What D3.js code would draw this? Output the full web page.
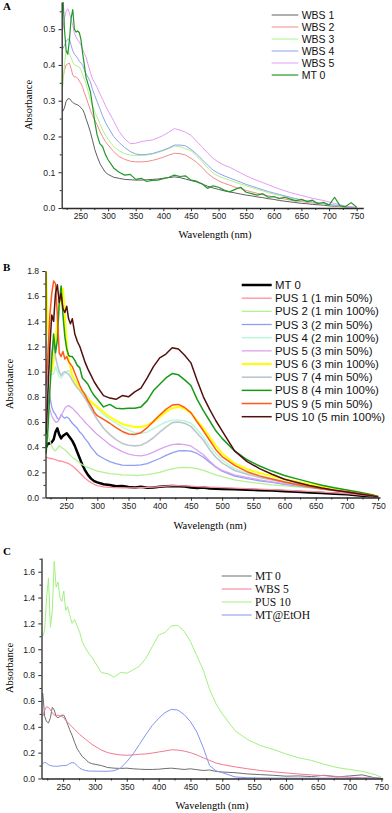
<!DOCTYPE html>
<html>
<head>
<meta charset="utf-8">
<script src="https://cdn.jsdelivr.net/npm/d3@7"></script>
<style>
  body { margin: 0; background: #fff; }
  svg { display: block; }
</style>
</head>
<body>
<div id="chart"></div>
<script>
// wavelength grids (nm)
var WL_A = [218,221,224,227,230,233,236,239,242,245,248,251,254,257,260,264,268,272,276,280,285,290,295,300,
  310,320,330,340,350,360,370,380,390,400,410,420,430,440,450,460,470,480,490,500,
  510,520,530,540,550,560,570,580,590,600,610,620,630,640,650,660,670,680,690,700,710,720,730,740,750];
var WL_BC = [218,221,224,227,230,233,236,239,242,245,248,251,254,257,260,264,268,272,276,280,285,290,295,300,
  310,320,330,340,350,360,370,380,390,400,410,420,430,440,450,460,470,480,490,500,
  520,540,560,580,600,620,640,660,680,700,720,740,750];

var WL_TICKS = [250,300,350,400,450,500,550,600,650,700,750];
var WL_MINOR = [225,275,325,375,425,475,525,575,625,675,725];

// ---- panel A ----
var A_NAMES = ["WBS 1", "WBS 2", "WBS 3", "WBS 4", "WBS 5", "MT 0"];
var A_WBS1 = [0.270,0.280,0.298,0.305,0.306,0.300,0.295,0.292,0.290,0.288,0.285,0.280,0.275,0.265,0.250,0.232,0.212,0.188,0.163,0.145,0.125,0.112,0.100,0.094,
  0.086,0.083,0.080,0.079,0.078,0.078,0.079,0.080,0.081,0.083,0.085,0.087,0.085,0.081,0.077,0.073,0.067,0.061,0.056,0.052,
  0.048,0.045,0.042,0.039,0.036,0.034,0.031,0.029,0.026,0.024,0.021,0.019,0.017,0.015,0.013,0.012,0.010,0.009,0.008,0.006,0.005,0.004,0.003,0.002,0.001];
var A_WBS2 = [0.362,0.385,0.400,0.403,0.405,0.390,0.372,0.366,0.367,0.362,0.355,0.347,0.337,0.322,0.310,0.292,0.273,0.258,0.245,0.233,0.215,0.200,0.186,0.176,
  0.158,0.144,0.136,0.131,0.129,0.129,0.130,0.133,0.137,0.142,0.148,0.153,0.152,0.148,0.139,0.128,0.114,0.097,0.085,0.076,
  0.069,0.064,0.058,0.054,0.049,0.045,0.041,0.037,0.034,0.031,0.028,0.025,0.022,0.020,0.018,0.016,0.014,0.012,0.011,0.009,0.007,0.005,0.003,0.002,0.001];
var A_WBS3 = [0.340,0.400,0.440,0.440,0.430,0.420,0.408,0.400,0.398,0.396,0.394,0.385,0.372,0.360,0.348,0.325,0.302,0.286,0.268,0.255,0.236,0.218,0.204,0.192,
  0.172,0.160,0.152,0.148,0.147,0.147,0.148,0.151,0.155,0.160,0.166,0.173,0.172,0.166,0.160,0.146,0.130,0.112,0.098,0.089,
  0.083,0.078,0.072,0.067,0.062,0.057,0.052,0.048,0.043,0.039,0.035,0.031,0.027,0.024,0.021,0.018,0.016,0.013,0.011,0.009,0.007,0.005,0.003,0.002,0.001];
var A_WBS4 = [0.445,0.455,0.465,0.472,0.473,0.455,0.440,0.430,0.425,0.418,0.410,0.405,0.399,0.386,0.375,0.365,0.352,0.331,0.314,0.298,0.278,0.258,0.240,0.226,
  0.200,0.183,0.169,0.158,0.151,0.149,0.150,0.152,0.157,0.162,0.168,0.176,0.176,0.174,0.164,0.151,0.136,0.120,0.106,0.097,
  0.090,0.084,0.078,0.072,0.066,0.061,0.056,0.051,0.046,0.042,0.038,0.034,0.030,0.026,0.023,0.020,0.017,0.015,0.013,0.010,0.008,0.006,0.004,0.002,0.001];
var A_WBS5 = [0.500,0.530,0.550,0.557,0.545,0.528,0.510,0.490,0.478,0.470,0.464,0.455,0.443,0.432,0.422,0.400,0.378,0.360,0.350,0.337,0.320,0.304,0.287,0.272,
  0.244,0.214,0.193,0.180,0.181,0.186,0.188,0.190,0.196,0.203,0.212,0.222,0.218,0.212,0.203,0.187,0.171,0.154,0.139,0.128,
  0.120,0.114,0.106,0.098,0.090,0.083,0.077,0.071,0.065,0.059,0.053,0.048,0.043,0.039,0.035,0.031,0.027,0.024,0.021,0.017,0.013,0.009,0.005,0.003,0.001];
var A_MT0 = [0.600,0.500,0.440,0.430,0.470,0.530,0.555,0.500,0.492,0.495,0.490,0.470,0.431,0.400,0.366,0.345,0.325,0.282,0.240,0.205,0.180,0.172,0.150,0.135,
  0.112,0.100,0.092,0.094,0.080,0.083,0.074,0.077,0.078,0.082,0.086,0.092,0.088,0.090,0.078,0.075,0.068,0.055,0.062,0.058,
  0.050,0.045,0.052,0.058,0.044,0.040,0.036,0.040,0.030,0.032,0.026,0.030,0.025,0.020,0.024,0.018,0.022,0.012,0.016,0.008,0.030,0.006,0.004,0.015,0.002];
var A_Y_TICKS = [0, 0.1, 0.2, 0.3, 0.4, 0.5];
var A_Y_MINOR = [0.05, 0.15, 0.25, 0.35, 0.45, 0.55];

// ---- panel B ----
var B_NAMES = ["MT 0", "PUS 1 (1 min 50%)", "PUS 2 (1 min 100%)", "PUS 3 (2 min 50%)", "PUS 4 (2 min 100%)",
  "PUS 5 (3 min 50%)", "PUS 6 (3 min 100%)", "PUS 7 (4 min 50%)", "PUS 8 (4 min 100%)", "PUS 9 (5 min 50%)", "PUS 10 (5 min 100%)"];
var B_MT0 = [0.40,0.43,0.43,0.44,0.46,0.52,0.55,0.50,0.47,0.49,0.50,0.51,0.49,0.47,0.45,0.41,0.36,0.31,0.26,0.22,0.18,0.15,0.13,0.12,
  0.105,0.10,0.09,0.092,0.083,0.08,0.085,0.078,0.08,0.085,0.09,0.092,0.09,0.087,0.08,0.075,0.08,0.072,0.07,0.068,
  0.065,0.062,0.058,0.055,0.05,0.046,0.04,0.036,0.03,0.025,0.016,0.008,0.003];
var B_PUS1 = [0.32,0.315,0.31,0.31,0.305,0.30,0.295,0.29,0.29,0.285,0.28,0.275,0.27,0.26,0.25,0.235,0.215,0.195,0.175,0.155,0.135,0.118,0.105,0.095,
  0.085,0.08,0.078,0.077,0.077,0.077,0.078,0.08,0.082,0.086,0.09,0.094,0.095,0.093,0.09,0.087,0.085,0.083,0.08,0.078,
  0.074,0.07,0.066,0.062,0.058,0.053,0.048,0.042,0.036,0.03,0.022,0.012,0.005];
var B_PUS2 = [0.55,0.50,0.45,0.41,0.38,0.37,0.39,0.41,0.40,0.39,0.38,0.365,0.35,0.335,0.32,0.305,0.29,0.275,0.26,0.25,0.24,0.23,0.22,0.21,
  0.20,0.19,0.185,0.18,0.178,0.176,0.177,0.182,0.19,0.20,0.215,0.228,0.238,0.24,0.238,0.23,0.215,0.198,0.18,0.165,
  0.14,0.125,0.112,0.10,0.092,0.084,0.076,0.067,0.058,0.048,0.035,0.02,0.008];
var B_PUS3 = [1.05,0.92,0.80,0.72,0.68,0.66,0.63,0.62,0.66,0.64,0.63,0.64,0.63,0.61,0.59,0.57,0.55,0.52,0.50,0.47,0.44,0.40,0.37,0.34,
  0.31,0.285,0.27,0.258,0.255,0.255,0.26,0.27,0.29,0.31,0.335,0.355,0.37,0.372,0.368,0.35,0.32,0.28,0.24,0.21,
  0.17,0.15,0.133,0.12,0.105,0.092,0.08,0.066,0.055,0.043,0.03,0.017,0.006];
var B_PUS4 = [1.25,1.12,1.02,0.98,0.98,1.04,1.00,0.96,0.95,0.97,0.99,1.00,1.01,0.99,0.97,0.94,0.91,0.88,0.85,0.83,0.80,0.76,0.735,0.71,
  0.66,0.62,0.59,0.56,0.535,0.515,0.51,0.52,0.545,0.575,0.60,0.615,0.615,0.61,0.59,0.54,0.48,0.41,0.35,0.30,
  0.23,0.195,0.168,0.147,0.127,0.11,0.092,0.077,0.062,0.05,0.035,0.018,0.006];
var B_PUS5 = [0.92,0.78,0.70,0.65,0.62,0.60,0.60,0.62,0.65,0.68,0.71,0.725,0.73,0.72,0.71,0.69,0.67,0.645,0.625,0.60,0.575,0.55,0.525,0.50,
  0.46,0.42,0.39,0.365,0.345,0.335,0.33,0.34,0.36,0.385,0.405,0.42,0.425,0.42,0.41,0.375,0.34,0.29,0.245,0.215,
  0.18,0.16,0.14,0.125,0.11,0.097,0.084,0.07,0.058,0.047,0.033,0.018,0.006];
var B_PUS6 = [1.80,1.35,1.05,1.00,1.10,1.25,1.40,1.52,1.62,1.66,1.45,1.22,1.10,1.03,0.97,0.93,0.90,0.87,0.84,0.81,0.78,0.76,0.74,0.72,
  0.68,0.64,0.61,0.585,0.57,0.56,0.56,0.575,0.60,0.64,0.68,0.71,0.72,0.705,0.67,0.61,0.55,0.48,0.41,0.35,
  0.27,0.225,0.195,0.17,0.145,0.125,0.105,0.087,0.07,0.055,0.038,0.02,0.007];
var B_PUS7 = [1.10,1.02,1.06,1.15,1.22,1.12,1.05,1.00,0.97,0.99,1.00,0.99,0.98,0.96,0.93,0.90,0.87,0.85,0.82,0.79,0.75,0.70,0.66,0.62,
  0.55,0.50,0.46,0.43,0.415,0.41,0.415,0.44,0.475,0.52,0.56,0.595,0.60,0.59,0.565,0.51,0.455,0.38,0.32,0.275,
  0.215,0.185,0.16,0.14,0.12,0.104,0.088,0.073,0.06,0.048,0.034,0.018,0.006];
var B_PUS8 = [0.35,0.55,0.85,1.10,1.30,1.15,1.25,1.55,1.68,1.45,1.28,1.18,1.13,1.12,1.12,1.09,1.05,1.03,0.95,0.93,0.90,0.85,0.81,0.78,
  0.72,0.74,0.71,0.705,0.71,0.71,0.72,0.77,0.85,0.90,0.95,0.985,0.975,0.935,0.89,0.78,0.69,0.61,0.53,0.47,
  0.37,0.30,0.25,0.21,0.175,0.148,0.122,0.098,0.077,0.06,0.042,0.022,0.008];
var B_PUS9 = [0.90,1.15,1.45,1.62,1.72,1.70,1.45,1.15,1.12,1.16,1.10,1.12,1.08,1.06,1.04,0.99,0.94,0.89,0.85,0.82,0.77,0.73,0.68,0.65,
  0.62,0.59,0.555,0.525,0.505,0.50,0.515,0.555,0.605,0.655,0.70,0.735,0.74,0.715,0.675,0.60,0.53,0.455,0.38,0.325,
  0.255,0.205,0.172,0.147,0.123,0.104,0.086,0.07,0.056,0.045,0.031,0.016,0.006];
var B_PUS10 = [0.50,0.85,1.20,1.45,1.40,1.62,1.69,1.55,1.62,1.50,1.47,1.52,1.42,1.38,1.42,1.30,1.24,1.20,1.14,1.08,1.02,0.97,0.92,0.88,
  0.81,0.79,0.78,0.81,0.80,0.84,0.87,0.95,1.04,1.11,1.14,1.19,1.18,1.13,1.07,0.93,0.80,0.70,0.61,0.53,
  0.37,0.285,0.23,0.185,0.145,0.12,0.095,0.075,0.058,0.043,0.028,0.013,0.005];
var B_Y_TICKS = [0, 0.2, 0.4, 0.6, 0.8, 1.0, 1.2, 1.4, 1.6, 1.8];
var B_Y_MINOR = [0.1, 0.3, 0.5, 0.7, 0.9, 1.1, 1.3, 1.5, 1.7];

// ---- panel C ----
var C_NAMES = ["MT 0", "WBS 5", "PUS 10", "MT@EtOH"];
var C_MT0 = [0.66,0.48,0.44,0.43,0.47,0.55,0.53,0.48,0.47,0.48,0.49,0.49,0.46,0.42,0.38,0.335,0.28,0.23,0.20,0.17,0.15,0.125,0.115,0.11,
  0.10,0.085,0.08,0.078,0.08,0.075,0.072,0.07,0.07,0.072,0.077,0.08,0.075,0.07,0.075,0.068,0.062,0.066,0.055,0.05,
  0.045,0.035,0.03,0.025,0.018,0.02,0.015,0.025,0.012,0.02,0.028,0.005,0.0];
var C_WBS5 = [0.48,0.53,0.555,0.55,0.53,0.51,0.49,0.485,0.49,0.485,0.48,0.47,0.45,0.435,0.42,0.40,0.38,0.36,0.34,0.325,0.305,0.285,0.265,0.25,
  0.22,0.20,0.19,0.182,0.18,0.183,0.188,0.19,0.197,0.205,0.213,0.222,0.22,0.212,0.20,0.182,0.16,0.14,0.12,0.108,
  0.09,0.075,0.062,0.052,0.043,0.035,0.028,0.022,0.016,0.01,0.006,0.003,0.001];
var C_PUS10 = [1.10,1.15,1.40,1.55,1.17,1.30,1.68,1.48,1.52,1.40,1.37,1.45,1.30,1.33,1.27,1.20,1.23,1.18,1.13,1.06,1.01,0.97,0.94,0.90,
  0.82,0.81,0.785,0.82,0.815,0.84,0.87,0.93,1.02,1.11,1.13,1.18,1.185,1.14,1.06,0.95,0.84,0.69,0.58,0.50,
  0.37,0.30,0.255,0.225,0.19,0.16,0.14,0.11,0.085,0.07,0.055,0.03,0.01];
var C_ETOH = [0.115,0.125,0.12,0.105,0.10,0.097,0.095,0.095,0.095,0.097,0.10,0.10,0.10,0.105,0.115,0.124,0.118,0.10,0.08,0.07,0.062,0.058,0.057,0.057,
  0.056,0.056,0.06,0.08,0.13,0.19,0.265,0.34,0.41,0.465,0.51,0.535,0.53,0.495,0.44,0.36,0.24,0.10,0.06,0.045,
  0.012,0.006,0.004,0.003,0.003,0.003,0.003,0.003,0.003,0.003,0.003,0.003,0.002];
var C_Y_TICKS = [0, 0.2, 0.4, 0.6, 0.8, 1.0, 1.2, 1.4, 1.6];
var C_Y_MINOR = [0.1, 0.3, 0.5, 0.7, 0.9, 1.1, 1.3, 1.5, 1.7];

var SANS = "'Liberation Sans', Arial, sans-serif";
var SERIF = "'Liberation Serif', 'Times New Roman', serif";

var svg = d3.select("#chart").append("svg")
  .attr("width", 392)
  .attr("height", 813);

var panels = [
  {
    key: "A", wl: WL_A,
    series: [A_WBS1, A_WBS2, A_WBS3, A_WBS4, A_WBS5, A_MT0], names: A_NAMES,
    colors: ["#5e5e5e", "#f48a8a", "#aef28a", "#8fa2ee", "#e49cf4", "#23982a"],
    widths: [1, 1, 1, 1, 1, 1.2],
    xDomain: [216, 762], yMax: 0.576, yTicks: A_Y_TICKS, yMinor: A_Y_MINOR,
    left: 61.7, right: 363.3, top: 2, bottom: 208,
    letter: [3, 10], xTitle: [215, 238], yTitle: [31.5, 105],
    legend: { x1: 271.7, x2: 298.3, tx: 301.7, y0: 15, dy: 12, font: "10.5px " + SANS }
  },
  {
    key: "B", wl: WL_BC,
    series: [B_MT0, B_PUS1, B_PUS2, B_PUS3, B_PUS4, B_PUS5, B_PUS6, B_PUS7, B_PUS8, B_PUS9, B_PUS10], names: B_NAMES,
    colors: ["#000000", "#ff8e9c", "#b2f294", "#8e9ef0", "#b6f8dc", "#dca2f2", "#ffff00", "#bcc6cc", "#179a17", "#ff5a18", "#520f0f"],
    widths: [2.5, 1.3, 1.3, 1.3, 1.4, 1.3, 2, 1.6, 1.5, 1.5, 1.5],
    xDomain: [217, 753], yMax: 1.8, yTicks: B_Y_TICKS, yMinor: B_Y_MINOR,
    left: 45.5, right: 380, top: 271, bottom: 497.5,
    letter: [3, 271], xTitle: [210, 529], yTitle: [12.5, 384],
    legend: { x1: 241.7, x2: 271.7, tx: 275, y0: 285, dy: 13.17, font: "11.4px " + SANS }
  },
  {
    key: "C", wl: WL_BC,
    series: [C_MT0, C_WBS5, C_PUS10, C_ETOH], names: C_NAMES,
    colors: ["#6e6e6e", "#f27890", "#a2f07e", "#8494f0"],
    widths: [1, 1, 1, 1],
    xDomain: [216, 752], yMax: 1.706, yTicks: C_Y_TICKS, yMinor: C_Y_MINOR,
    left: 41.5, right: 382.7, top: 558, bottom: 778.5,
    letter: [3, 555], xTitle: [212, 809], yTitle: [12.5, 668],
    legend: { x1: 221.7, x2: 251.7, tx: 255, y0: 576, dy: 13, font: "11.6px " + SERIF }
  }
];

function styleAxis(g) {
  g.select("path.domain").attr("stroke", "#2a2a2a").attr("stroke-width", 1.3);
  g.selectAll(".tick line").attr("stroke", "#2a2a2a").attr("stroke-width", 1);
  g.selectAll(".tick text")
    .attr("fill", "#1a1a1a")
    .style("font-family", SANS)
    .style("font-size", "8.6px");
}

panels.forEach(function (p) {
  var g = svg.append("g");

  var x = d3.scaleLinear().domain(p.xDomain).range([p.left, p.right]);
  var y = d3.scaleLinear().domain([0, p.yMax]).range([p.bottom, p.top]);

  g.append("clipPath")
    .attr("id", "clip" + p.key)
    .append("rect")
    .attr("x", p.left)
    .attr("y", p.top)
    .attr("width", p.right - p.left)
    .attr("height", p.bottom - p.top);

  // spectra
  var line = d3.line()
    .x(function (d) { return x(d[0]); })
    .y(function (d) { return y(d[1]); });

  p.series.forEach(function (vals, i) {
    var pts = p.wl.map(function (w, j) { return [w, vals[j]]; });
    g.append("path")
      .datum(pts)
      .attr("clip-path", "url(#clip" + p.key + ")")
      .attr("fill", "none")
      .attr("stroke", p.colors[i])
      .attr("stroke-width", p.widths[i])
      .attr("stroke-linejoin", "round")
      .attr("d", line);
  });

  // x axis, major + minor
  var xMinor = g.append("g")
    .attr("transform", "translate(0," + p.bottom + ")")
    .call(d3.axisBottom(x).tickValues(WL_MINOR).tickSize(2).tickFormat(""));
  xMinor.select("path.domain").remove();
  xMinor.selectAll(".tick line").attr("stroke", "#2a2a2a");

  var xAxis = g.append("g")
    .attr("transform", "translate(0," + p.bottom + ")")
    .call(d3.axisBottom(x).tickValues(WL_TICKS).tickSize(3.2).tickSizeOuter(0).tickPadding(2));
  styleAxis(xAxis);

  // y axis, major + minor
  var yMinor = g.append("g")
    .attr("transform", "translate(" + p.left + ",0)")
    .call(d3.axisLeft(y).tickValues(p.yMinor.filter(function (v) { return v < p.yMax; })).tickSize(2).tickFormat(""));
  yMinor.select("path.domain").remove();
  yMinor.selectAll(".tick line").attr("stroke", "#2a2a2a");

  var yAxis = g.append("g")
    .attr("transform", "translate(" + p.left + ",0)")
    .call(d3.axisLeft(y).tickValues(p.yTicks).tickSize(3.2).tickSizeOuter(0).tickPadding(3.2)
      .tickFormat(d3.format(".1f")));
  styleAxis(yAxis);

  // titles
  g.append("text")
    .attr("x", p.xTitle[0])
    .attr("y", p.xTitle[1])
    .attr("text-anchor", "middle")
    .style("font-family", SERIF)
    .style("font-size", "10.5px")
    .text("Wavelength (nm)");

  g.append("text")
    .attr("transform", "translate(" + p.yTitle[0] + "," + p.yTitle[1] + ") rotate(-90)")
    .attr("text-anchor", "middle")
    .style("font-family", SERIF)
    .style("font-size", "10.5px")
    .text("Absorbance");

  g.append("text")
    .attr("x", p.letter[0])
    .attr("y", p.letter[1])
    .style("font-family", SERIF)
    .style("font-size", "11px")
    .style("font-weight", "bold")
    .text(p.key);

  // legend
  var lg = p.legend;
  p.names.forEach(function (name, i) {
    var ly = lg.y0 + i * lg.dy;
    g.append("line")
      .attr("x1", lg.x1).attr("x2", lg.x2)
      .attr("y1", ly).attr("y2", ly)
      .attr("stroke", p.colors[i])
      .attr("stroke-width", p.widths[i]);
    g.append("text")
      .attr("x", lg.tx)
      .attr("y", ly)
      .attr("dy", "0.36em")
      .style("font", lg.font)
      .attr("fill", "#111")
      .text(name);
  });
});
</script>
</body>
</html>
